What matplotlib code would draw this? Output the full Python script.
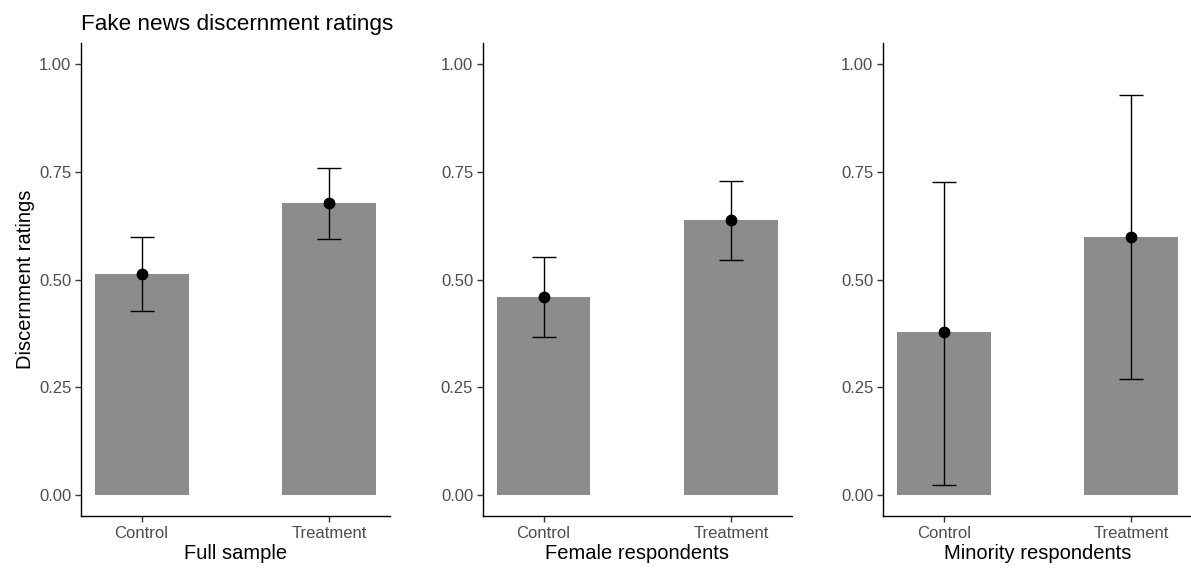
import matplotlib.pyplot as plt
import numpy as np

plt.rcParams['font.family'] = ['Liberation Sans', 'DejaVu Sans']

groups = ['Control', 'Treatment']
panels = ['Full sample', 'Female respondents', 'Minority respondents']

means = [[0.513, 0.677],
         [0.460, 0.639],
         [0.377, 0.599]]
lower = [[0.427, 0.595],
         [0.367, 0.545],
         [0.023, 0.268]]
upper = [[0.599, 0.760],
         [0.552, 0.730],
         [0.727, 0.929]]

yticks = [0.0, 0.25, 0.5, 0.75, 1.0]

fig = plt.figure(figsize=(11.91, 5.71), dpi=100)
lefts = [0.068, 0.4055, 0.7414]
bottom, height, width = 0.0963, 0.8284, 0.2594

x = np.arange(1, len(groups) + 1)
for p in range(3):
    ax = fig.add_axes([lefts[p], bottom, width, height])
    m = np.array(means[p])
    lo = m - np.array(lower[p])
    hi = np.array(upper[p]) - m
    ax.bar(x, m, width=0.5, color='#8c8c8c', zorder=1)
    ax.errorbar(x, m, yerr=[lo, hi], fmt='none', ecolor='black',
                elinewidth=1.0, capsize=8.5, capthick=1.0, zorder=2)
    ax.plot(x, m, 'o', color='black', markersize=7.5, zorder=3)

    ax.set_xlim(0.677, 2.323)
    ax.set_ylim(-0.05, 1.05)
    ax.set_xticks(x)
    ax.set_xticklabels(groups)
    ax.set_yticks(yticks)
    ax.set_yticklabels(['%.2f' % v for v in yticks])
    ax.tick_params(axis='both', labelsize=12, labelcolor='#4d4d4d',
                   color='#333333', length=4, width=1.0, pad=3)
    for s in ['top', 'right']:
        ax.spines[s].set_visible(False)
    for s in ['left', 'bottom']:
        ax.spines[s].set_linewidth(1.0)
        ax.spines[s].set_color('black')
    ax.set_xlabel(panels[p], fontsize=14.5, color='black', labelpad=2)
    if p == 0:
        ax.set_ylabel('Discernment ratings', fontsize=14.5, color='black', labelpad=3)
        ax.set_title('Fake news discernment ratings', loc='left', fontsize=16.2,
                     color='black', pad=9)

fig.savefig('out.png', dpi=100)
